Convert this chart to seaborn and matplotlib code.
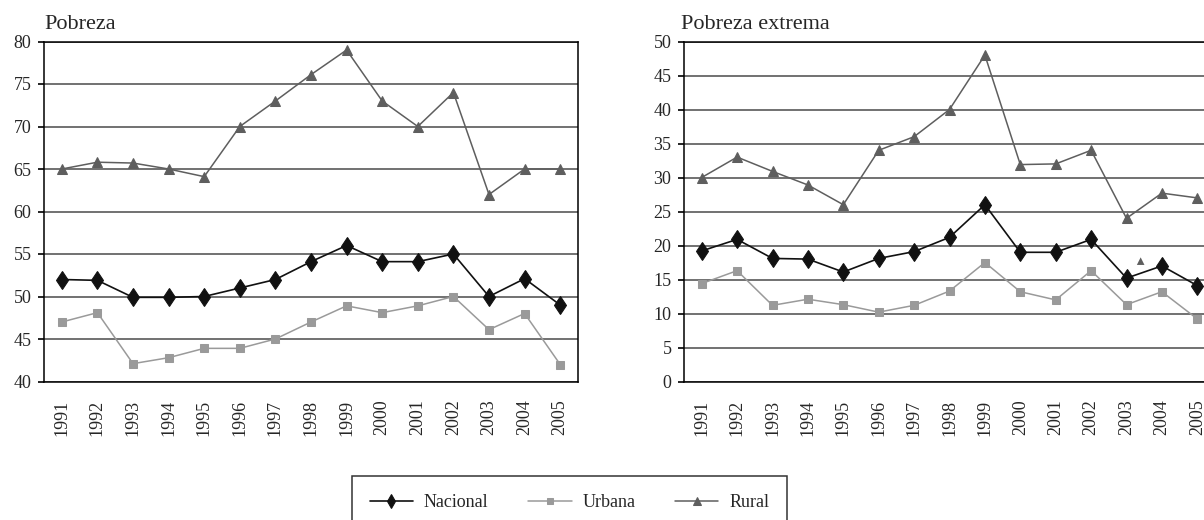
import numpy as np
import pandas as pd
import seaborn as sns
import matplotlib.pyplot as plt

# data
years = list(range(1991, 2006))
series = ["Nacional", "Urbana", "Rural"]

pobreza_nacional = [52.0, 51.9, 49.9, 49.9, 50.0, 51.0, 52.0, 54.1, 56.0, 54.1, 54.1, 55.0, 50.0, 52.1, 49.0]
pobreza_urbana = [47.0, 48.1, 42.1, 42.8, 43.9, 43.9, 45.0, 47.0, 48.9, 48.1, 48.9, 50.0, 46.1, 48.0, 42.0]
pobreza_rural = [65.0, 65.8, 65.7, 65.0, 64.1, 70.0, 73.0, 76.1, 79.0, 73.0, 70.0, 74.0, 62.0, 65.0, 65.0]

extrema_nacional = [19.2, 20.9, 18.1, 18.0, 16.1, 18.1, 19.1, 21.2, 26.0, 19.0, 19.0, 20.9, 15.2, 17.0, 14.1]
extrema_urbana = [14.4, 16.3, 11.2, 12.1, 11.3, 10.2, 11.2, 13.3, 17.5, 13.2, 12.0, 16.3, 11.3, 13.2, 9.2]
extrema_rural = [30.0, 33.0, 30.9, 28.9, 26.0, 34.0, 36.0, 40.0, 48.0, 31.9, 32.0, 34.0, 24.0, 27.7, 27.0]

# stray rural marker that sits between 2003 and 2004 in the right panel
stray_x = [2003.4]
stray_y = [17.7]

pobreza = pd.DataFrame({"year": years, "Nacional": pobreza_nacional,
                        "Urbana": pobreza_urbana, "Rural": pobreza_rural})
extrema = pd.DataFrame({"year": years, "Nacional": extrema_nacional,
                        "Urbana": extrema_urbana, "Rural": extrema_rural})

sns.set_style("white")
plt.rcParams["font.family"] = ["Liberation Serif", "DejaVu Serif"]

styles = {
    "Nacional": dict(color="#111111", marker="d", markersize=9.5, linewidth=1.2),
    "Urbana": dict(color="#9a9a9a", marker="s", markersize=5.5, linewidth=1.1),
    "Rural": dict(color="#5e5e5e", marker="^", markersize=7.5, linewidth=1.1),
}

fig = plt.figure(figsize=(12.04, 5.2), dpi=100)
ax1 = fig.add_axes([44 / 1204, 1 - 381.5 / 520, 534 / 1204, 340 / 520])
ax2 = fig.add_axes([684 / 1204, 1 - 381.5 / 520, 531 / 1204, 340 / 520])

panels = [
    (ax1, pobreza, "Pobreza", (40, 80), 0.0),
    (ax2, extrema, "Pobreza extrema", (0, 50), -0.006),
]

for ax, df, title, ylim, tx in panels:
    for s in series:
        st = styles[s]
        sns.lineplot(x="year", y=s, data=df, ax=ax, color=st["color"],
                     marker=st["marker"], markersize=st["markersize"],
                     markeredgecolor=st["color"], markerfacecolor=st["color"],
                     linewidth=st["linewidth"], label=s, zorder=3)
    if ax.get_legend() is not None:
        ax.get_legend().remove()

    ax.set_xlim(1990.5, 2005.5)
    ax.set_ylim(*ylim)
    ax.set_yticks(np.arange(ylim[0], ylim[1] + 1, 5))
    ax.yaxis.grid(True, color="#4a4a4a", linewidth=1.1)
    ax.xaxis.grid(False)
    ax.set_axisbelow(True)

    ax.set_xticks(years)
    ax.set_xticklabels([str(y) for y in years], rotation=90)
    ax.set_xticks(np.arange(1990.5, 2006, 1), minor=True)
    ax.tick_params(axis="x", which="major", length=0, pad=13, labelsize=13)
    ax.tick_params(axis="x", which="minor", length=5, width=1.2, direction="out", color="black")
    ax.tick_params(axis="y", length=4.5, width=1.2, direction="out", color="black",
                   pad=4.5, labelsize=13, left=True)

    for sp in ax.spines.values():
        sp.set_visible(True)
        sp.set_color("black")
        sp.set_linewidth(1.1)

    ax.set_xlabel("")
    ax.set_ylabel("")
    ax.text(tx, 1.037, title, transform=ax.transAxes, fontsize=16,
            ha="left", va="baseline")

sns.scatterplot(x=stray_x, y=stray_y, ax=ax2, marker="^", s=30,
                color=styles["Rural"]["color"], edgecolor="none", zorder=3)
if ax2.get_legend() is not None:
    ax2.get_legend().remove()

handles, labels = ax1.get_lines()[:3], series
leg = fig.legend(handles, labels, loc="upper center",
                 bbox_to_anchor=(569.5 / 1204, 1 - 476 / 520),
                 ncol=3, fontsize=13, frameon=True, fancybox=False,
                 edgecolor="black", borderpad=1.0, handlelength=2.4,
                 handletextpad=0.6, columnspacing=2.2, markerscale=0.8,
                 borderaxespad=0)
leg.get_frame().set_linewidth(1.1)

fig.savefig("out.png", dpi=100)
